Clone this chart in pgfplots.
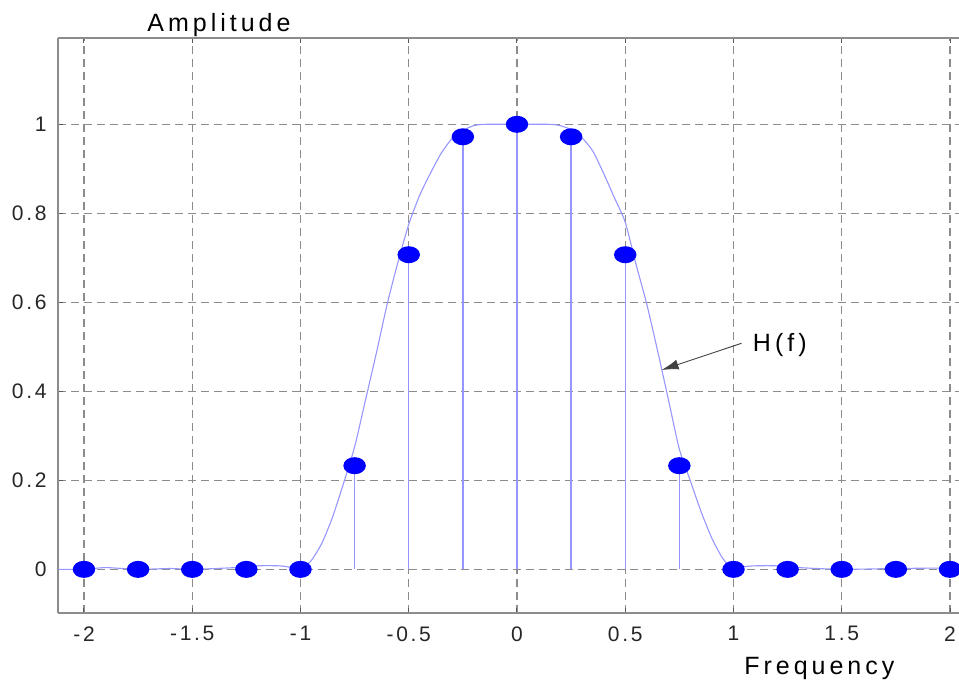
\documentclass[border=0pt]{standalone}
\usepackage{pgfplots}
\pgfplotsset{compat=1.18}
\usetikzlibrary{arrows.meta}
\usepackage{fontspec}
\setmainfont{Liberation Sans}
\newfontfamily\tickfont[LetterSpace=13]{Liberation Sans}
\newfontfamily\labfont[LetterSpace=16]{Liberation Sans}
\definecolor{curveblue}{RGB}{150,150,255}
\definecolor{stemblue}{RGB}{150,150,255}
\definecolor{gridgray}{RGB}{140,140,140}
\definecolor{axgray}{RGB}{140,140,140}
\begin{document}
\begin{tikzpicture}
\begin{axis}[
  scale only axis,
  width=450.5pt, height=287.5pt,
  xmin=-2.12, xmax=2.0416,
  ymin=-0.098, ymax=1.194,
  axis x line*=box, axis y line*=left,
  axis line style={axgray, line width=0.75pt},
  xtick={-2,-1.5,-1,-0.5,0,0.5,1,1.5,2},
  xticklabels={-2,-1.5,-1,-0.5,0,0.5,1,1.5,2},
  ytick={0,0.2,0.4,0.6,0.8,1},
  yticklabels={0,0.2,0.4,0.6,0.8,1},
  tick align=inside,
  major tick length=2.5pt,
  tick style={gray!70!black, line width=0.5pt},
  xticklabel style={font=\fontsize{10.5}{12}\tickfont, text=black!85, inner sep=0pt, yshift=-6.5pt},
  yticklabel style={font=\fontsize{10.5}{12}\tickfont, text=black!85, inner sep=0pt, xshift=-5.5pt},
  grid=major,
  major grid style={gridgray, line width=0.55pt, dash pattern=on 4pt off 2.5pt},
  clip=true,
]
\addplot[curveblue, line width=0.55pt, smooth, tension=0.4] coordinates {
(-2.12,0) (-2.0,0.0) (-1.9,0.004) (-1.75,0.0) (-1.6,0.002) (-1.5,0) (-1.3,0.004)
(-1.2,0.008) (-1.1,0.008) (-1.05,0.005) (-1.0,0.0) (-0.95,0.02) (-0.9,0.06)
(-0.85,0.12) (-0.8,0.195) (-0.75,0.275) (-0.7,0.38) (-0.65,0.485) (-0.6,0.595)
(-0.55,0.69) (-0.5,0.775) (-0.45,0.84) (-0.4,0.89) (-0.35,0.935) (-0.3,0.968)
(-0.25,0.986) (-0.2,0.997) (-0.15,1.0) (0,1.0) (0.15,1.0) (0.2,0.997)
(0.25,0.988) (0.3,0.97) (0.35,0.94) (0.4,0.89) (0.45,0.835) (0.5,0.78)
(0.55,0.685) (0.6,0.595) (0.65,0.49) (0.7,0.38) (0.75,0.27) (0.8,0.2)
(0.85,0.13) (0.9,0.07) (0.95,0.025) (1.0,0) (1.05,0.006) (1.1,0.008)
(1.2,0.008) (1.3,0.004) (1.5,0) (1.75,0.002) (2.0,0.003) (2.0416,0.002)
};
\addplot[ycomb, stemblue, line width=0.7pt,
  mark=*, mark size=3.9pt,
  mark options={xscale=1.35, draw=blue, fill=blue, solid}] coordinates {
(-2,0) (-1.75,0) (-1.5,0) (-1.25,0) (-1,0) (-0.75,0.233) (-0.5,0.707)
(-0.25,0.972) (0,1) (0.25,0.972) (0.5,0.707) (0.75,0.233) (1,0)
(1.25,0) (1.5,0) (1.75,0) (2,0)
};
\draw[-{Latex[length=8.5pt,width=5pt]}, black!75, line width=0.45pt]
  (axis cs:1.037,0.508) -- (axis cs:0.668,0.448);
\node[anchor=base west, inner sep=0pt, font=\fontsize{12.5}{14}\labfont]
  at (axis cs:1.088,0.49) {H(f)};
\coordinate (amp) at (rel axis cs:0.1787,1);
\coordinate (freq) at (rel axis cs:0.845,0);
\coordinate (sw) at (rel axis cs:0,0);
\coordinate (ne) at (rel axis cs:1,1);
\end{axis}
\node[anchor=base, inner sep=0pt, font=\fontsize{12.5}{14}\labfont]
  at ([yshift=3pt]amp) {Amplitude};
\node[anchor=base, inner sep=0pt, font=\fontsize{12.5}{14}\labfont]
  at ([yshift=-31pt]freq) {Frequency};
\pgfresetboundingbox
\path[use as bounding box] ([shift={(-29pt,-34.5pt)}]sw) rectangle ([shift={(0pt,19pt)}]ne);
\end{tikzpicture}
\end{document}
